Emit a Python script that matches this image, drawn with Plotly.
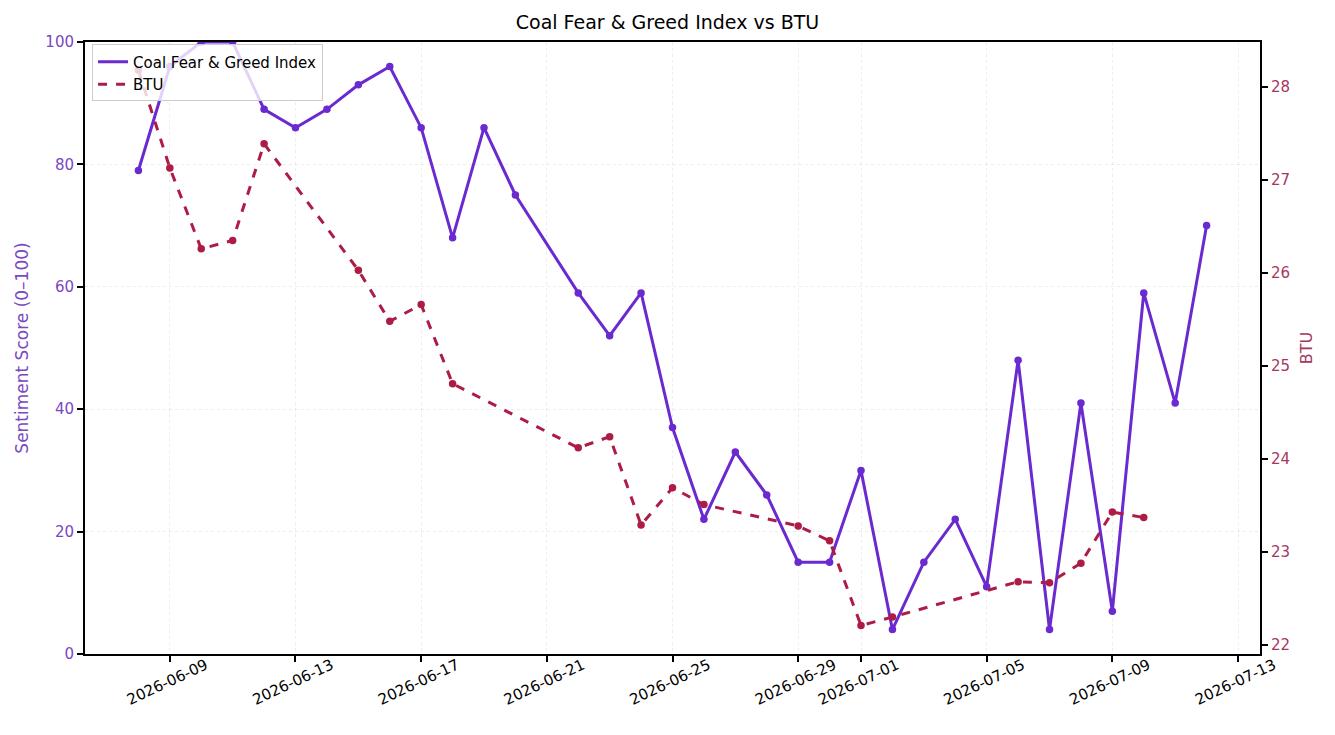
import plotly.graph_objects as go

sent_dates = ["2026-06-08", "2026-06-09", "2026-06-10", "2026-06-11", "2026-06-12", "2026-06-13",
              "2026-06-14", "2026-06-15", "2026-06-16", "2026-06-17", "2026-06-18", "2026-06-19",
              "2026-06-20", "2026-06-22", "2026-06-23", "2026-06-24", "2026-06-25", "2026-06-26",
              "2026-06-27", "2026-06-28", "2026-06-29", "2026-06-30", "2026-07-01", "2026-07-02",
              "2026-07-03", "2026-07-04", "2026-07-05", "2026-07-06", "2026-07-07", "2026-07-08",
              "2026-07-09", "2026-07-10", "2026-07-11", "2026-07-12"]
sent_values = [79, 96, 100, 100, 89, 86, 89, 93, 96, 86, 68, 86, 75, 59, 52, 59, 37, 22, 33, 26,
               15, 15, 30, 4, 15, 22, 11, 48, 4, 41, 7, 59, 41, 70]

btu_dates = ["2026-06-08", "2026-06-09", "2026-06-10", "2026-06-11", "2026-06-12", "2026-06-15",
             "2026-06-16", "2026-06-17", "2026-06-18", "2026-06-22", "2026-06-23", "2026-06-24",
             "2026-06-25", "2026-06-26", "2026-06-29", "2026-06-30", "2026-07-01", "2026-07-02",
             "2026-07-06", "2026-07-07", "2026-07-08", "2026-07-09", "2026-07-10"]
btu_values = [28.18, 27.13, 26.26, 26.35, 27.39, 26.03, 25.48, 25.66, 24.81, 24.12, 24.24, 23.29,
              23.69, 23.51, 23.28, 23.12, 22.21, 22.30, 22.68, 22.67, 22.88, 23.43, 23.37]

x_ticks = ["2026-06-09", "2026-06-13", "2026-06-17", "2026-06-21", "2026-06-25", "2026-06-29",
           "2026-07-01", "2026-07-05", "2026-07-09", "2026-07-13"]
y_ticks = [0, 20, 40, 60, 80, 100]
y2_ticks = [22, 23, 24, 25, 26, 27, 28]

PURPLE = "#6a2ad0"
CRIMSON = "#ad1c45"
PURPLE_TXT = "#7a48bf"
CRIMSON_TXT = "#a6375e"
FONT = "DejaVu Sans"

fig = go.Figure()
fig.add_trace(go.Scatter(
    x=sent_dates, y=sent_values, name="Coal Fear & Greed Index", mode="lines+markers",
    line=dict(color=PURPLE, width=3), marker=dict(color=PURPLE, size=7.5), yaxis="y",
    showlegend=False))
fig.add_trace(go.Scatter(
    x=btu_dates, y=btu_values, name="BTU", mode="lines+markers",
    line=dict(color=CRIMSON, width=3, dash="dash"), marker=dict(color=CRIMSON, size=7.5), yaxis="y2",
    showlegend=False))
# legend entries (line only, as in the reference legend)
fig.add_trace(go.Scatter(x=[None], y=[None], name="Coal Fear & Greed Index", mode="lines",
                         line=dict(color=PURPLE, width=3), yaxis="y"))
fig.add_trace(go.Scatter(x=[None], y=[None], name="BTU", mode="lines",
                         line=dict(color=CRIMSON, width=3, dash="dash"), yaxis="y2"))

fig.update_layout(
    width=1335, height=735,
    margin=dict(l=85, r=75, t=42, b=81),
    paper_bgcolor="white", plot_bgcolor="white",
    font=dict(family=FONT, size=14, color="black"),
    title=dict(text="Coal Fear & Greed Index vs BTU", x=0.5, xanchor="center",
               y=1 - 22 / 735, yanchor="middle", font=dict(size=19, color="black")),
    showlegend=True,
    legend=dict(x=0.006, y=0.996, xanchor="left", yanchor="top",
                bgcolor="rgba(255,255,255,0.8)", bordercolor="#cccccc", borderwidth=1,
                font=dict(size=15), tracegroupgap=0, itemwidth=30),
    xaxis=dict(
        type="date", range=["2026-06-06 07:12", "2026-07-13 16:48"],
        tickvals=x_ticks, ticktext=x_ticks, tickangle=-25, ticklabelshift=36,
        ticklabelstandoff=-11,
        ticks="outside", ticklen=6, tickwidth=1.5, tickcolor="black",
        showline=True, linecolor="black", linewidth=2, mirror=True,
        showgrid=True, gridcolor="rgba(0,0,0,0.07)", griddash="dot", gridwidth=1,
        zeroline=False, tickfont=dict(size=15, color="black")),
    yaxis=dict(
        range=[0, 100], tickvals=y_ticks,
        title=dict(text="Sentiment Score (0–100)", font=dict(size=17, color=PURPLE_TXT), standoff=12),
        tickfont=dict(size=15, color=PURPLE_TXT),
        ticks="outside", ticklen=6, tickwidth=1.5, tickcolor="black",
        showline=True, linecolor="black", linewidth=2,
        showgrid=True, gridcolor="rgba(0,0,0,0.07)", griddash="dot", gridwidth=1,
        zeroline=False),
    yaxis2=dict(
        overlaying="y", side="right", range=[21.903, 28.484], tickvals=y2_ticks,
        title=dict(text="BTU", font=dict(size=16, color=CRIMSON_TXT), standoff=12),
        tickfont=dict(size=15, color=CRIMSON_TXT),
        ticks="outside", ticklen=6, tickwidth=1.5, tickcolor="black",
        showline=True, linecolor="black", linewidth=2,
        showgrid=False, zeroline=False),
)

fig.write_html("out.html")
